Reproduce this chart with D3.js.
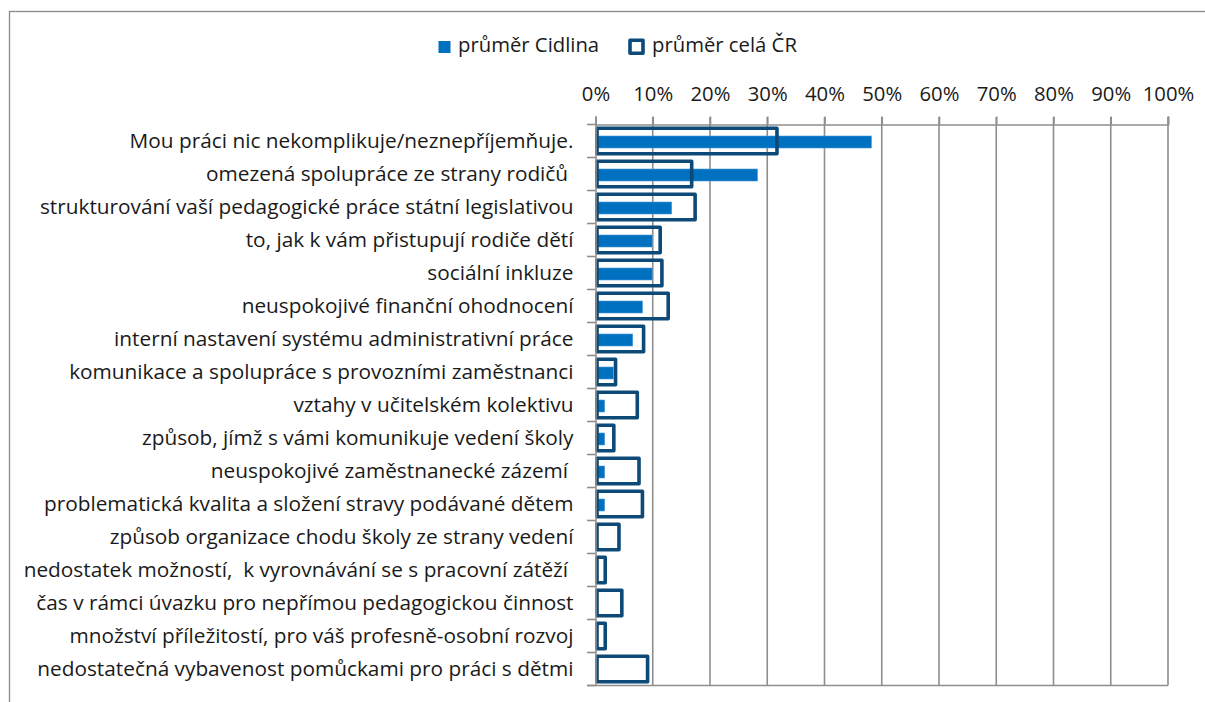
<!DOCTYPE html>
<html>
<head>
<meta charset="utf-8">
<script src="https://cdn.jsdelivr.net/npm/d3@7"></script>
<style>
  html, body { margin: 0; padding: 0; background: #fff; }
  svg { display: block; font-family: "Open Sans", "Noto Sans", sans-serif; }
</style>
</head>
<body>
<svg id="chart" width="1205" height="702"></svg>
<script>
const categories = [
  "Mou práci nic nekomplikuje/neznepříjemňuje.",
  "omezená spolupráce ze strany rodičů ",
  "strukturování vaší pedagogické práce státní legislativou",
  "to, jak k vám přistupují rodiče dětí",
  "sociální inkluze",
  "neuspokojivé finanční ohodnocení",
  "interní nastavení systému administrativní práce",
  "komunikace a spolupráce s provozními zaměstnanci",
  "vztahy v učitelském kolektivu",
  "způsob, jímž s vámi komunikuje vedení školy",
  "neuspokojivé zaměstnanecké zázemí ",
  "problematická kvalita a složení stravy podávané dětem",
  "způsob organizace chodu školy ze strany vedení",
  "nedostatek možností,  k vyrovnávání se s pracovní zátěží ",
  "čas v rámci úvazku pro nepřímou pedagogickou činnost",
  "množství příležitostí, pro váš profesně-osobní rozvoj",
  "nedostatečná vybavenost pomůckami pro práci s dětmi"
];
const cidlina = [48.2, 28.3, 13.3, 9.9, 9.9, 8.2, 6.5, 3.1, 1.6, 1.6, 1.6, 1.6, 0, 0, 0, 0, 0];
const celaCR  = [31.7, 16.8, 17.4, 11.3, 11.6, 12.7, 8.4, 3.5, 7.3, 3.2, 7.6, 8.2, 4.1, 1.7, 4.6, 1.7, 9.1];
const xTicks = [0, 10, 20, 30, 40, 50, 60, 70, 80, 90, 100];
const seriesNames = ["průměr Cidlina", "průměr celá ČR"];

const svg = d3.select("#chart");
const colFill = "#0070c0";
const colEdge = "#0d4a77";
const grid = "#8e8e8e";
const fs = 20.3;
const fsLab = 20.8;
const txt = "#1a1a1a";

// outer frame
svg.append("rect").attr("x", 9.5).attr("y", 11.5).attr("width", 1205).attr("height", 702)
  .attr("fill", "none").attr("stroke", "#8a8a8a").attr("stroke-width", 1.3);

const x = d3.scaleLinear().domain([0, 100]).range([595.5, 1168]);
const y = d3.scaleBand().domain(categories).range([124.5, 685.5]).padding(0);

// gridlines
svg.append("g").selectAll("line").data(xTicks.slice(1)).join("line")
  .attr("x1", d => x(d)).attr("x2", d => x(d))
  .attr("y1", 117).attr("y2", 685.5)
  .attr("stroke", grid).attr("stroke-width", 1.6);

// top axis
const topAxis = svg.append("g").attr("transform", "translate(0,124.5)")
  .call(d3.axisTop(x).tickValues(xTicks).tickFormat(d => d + "%").tickSize(8).tickPadding(16));
topAxis.select(".domain").attr("stroke", grid).attr("stroke-width", 1.6);
topAxis.selectAll(".tick line").attr("stroke", grid).attr("stroke-width", 1.6);
topAxis.selectAll(".tick text").attr("font-size", fs).attr("fill", txt)
  .attr("font-family", "'Open Sans', sans-serif");

// bottom line
svg.append("line").attr("x1", 587).attr("x2", 1168).attr("y1", 685.5).attr("y2", 685.5)
  .attr("stroke", grid).attr("stroke-width", 1.6);

// Cidlina bars
svg.append("g").selectAll("rect").data(categories).join("rect")
  .attr("x", x(0))
  .attr("y", d => y(d) + y.bandwidth() / 2 - 5)
  .attr("width", (d, i) => x(cidlina[i]) - x(0))
  .attr("height", 12)
  .attr("fill", colFill)
  .attr("stroke", "#4d9ad6").attr("stroke-width", 0.6);

// ČR outlined bars
svg.append("g").selectAll("rect").data(categories).join("rect")
  .attr("x", x(0) + 1.5)
  .attr("y", d => y(d) + 3.8)
  .attr("width", (d, i) => Math.max(0, x(celaCR[i]) - x(0) - 1.5))
  .attr("height", y.bandwidth() - 7.6)
  .attr("fill", "none")
  .attr("stroke", colEdge).attr("stroke-width", 3.6)
  .attr("stroke-linejoin", "round");

// left axis
const leftAxis = svg.append("g").attr("transform", `translate(${x(0)},0)`)
  .call(d3.axisLeft(y).tickSize(0).tickPadding(22));
leftAxis.select(".domain").attr("stroke", grid).attr("stroke-width", 1.6);
leftAxis.selectAll(".tick text").attr("font-size", fsLab).attr("fill", txt)
  .attr("font-family", "'Open Sans', sans-serif").attr("dy", "0.32em")
  .style("white-space", "pre").attr("x", -22);
// category boundary ticks
const bounds = categories.map(c => y(c)).concat([y.range()[1]]);
svg.append("g").selectAll("line").data(bounds).join("line")
  .attr("x1", 587).attr("x2", x(0)).attr("y1", d => d).attr("y2", d => d)
  .attr("stroke", grid).attr("stroke-width", 1.6);

// legend
const lg = svg.append("g").attr("font-size", fs).attr("fill", txt);
lg.append("rect").attr("x", 438.5).attr("y", 41).attr("width", 12).attr("height", 12).attr("fill", colFill);
lg.append("text").attr("x", 458).attr("y", 51.5).text(seriesNames[0]);
lg.append("rect").attr("x", 630).attr("y", 40.2).attr("width", 13).attr("height", 13)
  .attr("fill", "#fff").attr("stroke", colEdge).attr("stroke-width", 3.6).attr("stroke-linejoin", "round");
lg.append("text").attr("x", 652).attr("y", 51.5).text(seriesNames[1]);
</script>
</body>
</html>
